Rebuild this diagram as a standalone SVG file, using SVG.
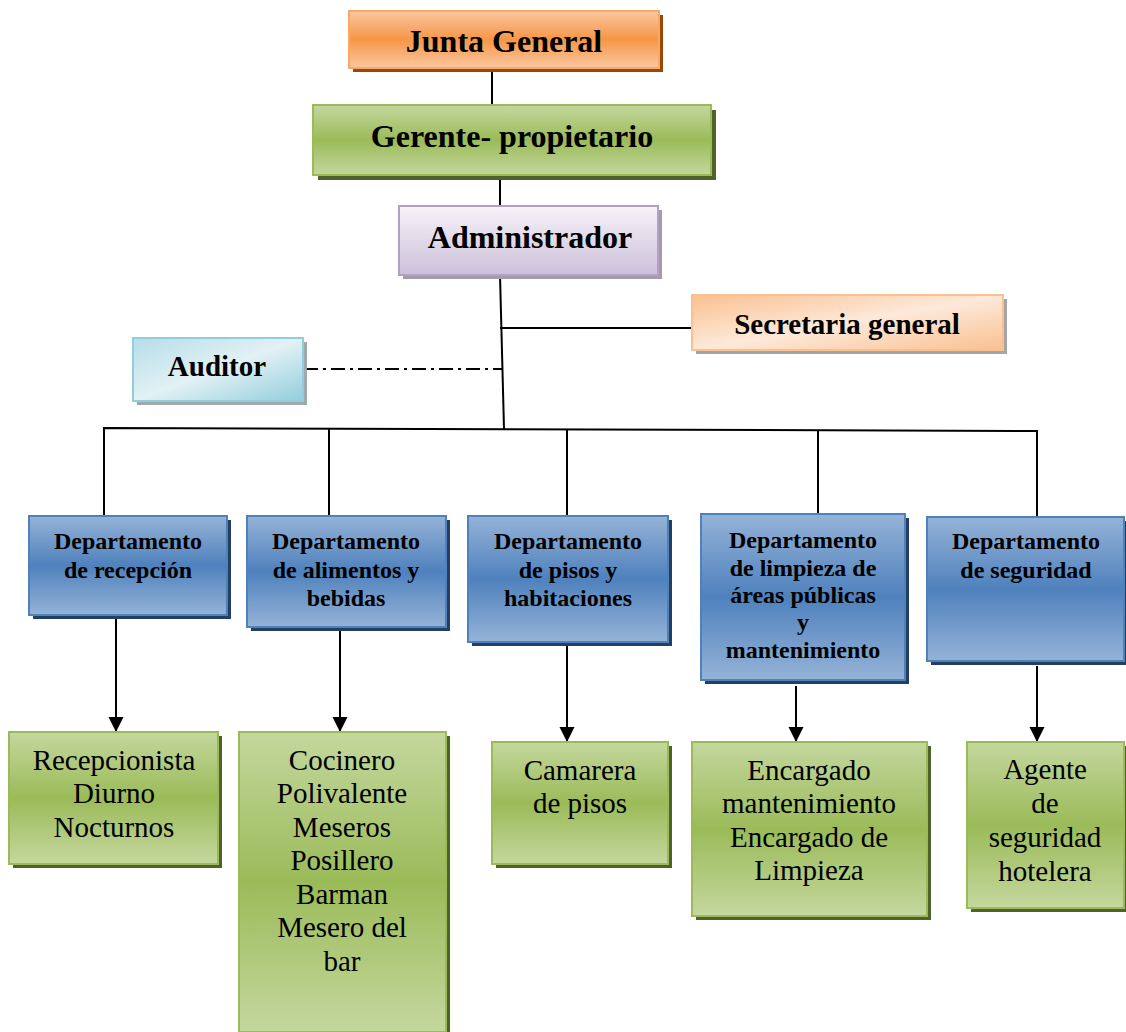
<svg xmlns="http://www.w3.org/2000/svg" width="1126" height="1032" viewBox="0 0 1126 1032">
<defs>
<linearGradient id="gOr" x1="0" y1="0" x2="0" y2="1"><stop offset="0" stop-color="#fac7a0"/><stop offset="0.5" stop-color="#f79646"/><stop offset="1" stop-color="#fac7a0"/></linearGradient>
<linearGradient id="gGr" x1="0" y1="0" x2="0" y2="1"><stop offset="0" stop-color="#c4d79e"/><stop offset="0.5" stop-color="#9bbb59"/><stop offset="1" stop-color="#c4d79e"/></linearGradient>
<linearGradient id="gBl" x1="0" y1="0" x2="0" y2="1"><stop offset="0" stop-color="#95b3d7"/><stop offset="0.5" stop-color="#4f81bd"/><stop offset="1" stop-color="#95b3d7"/></linearGradient>
<linearGradient id="gPu" x1="0" y1="0" x2="0" y2="1"><stop offset="0" stop-color="#f6f3f9"/><stop offset="1" stop-color="#ccc0da"/></linearGradient>
<linearGradient id="gPe" x1="0" y1="0" x2="1" y2="1"><stop offset="0" stop-color="#fac090"/><stop offset="0.5" stop-color="#fde9d9"/><stop offset="1" stop-color="#fac090"/></linearGradient>
<linearGradient id="gCy" x1="0" y1="0" x2="1" y2="1"><stop offset="0" stop-color="#b6dde8"/><stop offset="0.5" stop-color="#e2f1f5"/><stop offset="1" stop-color="#92cddc"/></linearGradient>
<marker id="arr" markerWidth="16" markerHeight="16" refX="15" refY="7.5" orient="auto" markerUnits="userSpaceOnUse"><path d="M0,0 L15,7.5 L0,15 Z" fill="#000"/></marker>
</defs>
<style>
.b{font-family:"Liberation Serif","Times New Roman",serif;font-weight:bold;text-anchor:middle;fill:#000}
.big{font-size:32px}
.mid{font-size:29px}
.dep{font-size:24px}
.r{font-family:"Liberation Serif","Times New Roman",serif;font-size:29px;text-anchor:middle;fill:#000}
.ln{stroke:#000;stroke-width:2;fill:none}
.or{fill:url(#gOr);stroke:#f8a869;stroke-width:2}
.gr{fill:url(#gGr);stroke:#9bbb59;stroke-width:2}
.bl{fill:url(#gBl);stroke:#4f81bd;stroke-width:2}
.pu{fill:url(#gPu);stroke:#b2a1c7;stroke-width:2}
.pe{fill:url(#gPe);stroke:#fac090;stroke-width:2}
.cy{fill:url(#gCy);stroke:#92cddc;stroke-width:2}
</style>
<g id="connectors">
<line class="ln" x1="492" y1="68" x2="492" y2="105"/>
<line class="ln" x1="500" y1="175" x2="500" y2="206"/>
<line class="ln" x1="500" y1="275" x2="504" y2="429"/>
<line class="ln" x1="500" y1="328" x2="692" y2="328"/>
<line class="ln" x1="304" y1="369" x2="502" y2="369" stroke-dasharray="14,5,3,5"/>
<polyline class="ln" points="104,516 104,428 1037,431 1037,517"/>
<line class="ln" x1="329" y1="429" x2="329" y2="516"/>
<line class="ln" x1="567" y1="430" x2="567" y2="516"/>
<line class="ln" x1="818" y1="430" x2="818" y2="514"/>
<line class="ln" x1="116" y1="615" x2="116" y2="732" marker-end="url(#arr)"/>
<line class="ln" x1="340" y1="627" x2="340" y2="732" marker-end="url(#arr)"/>
<line class="ln" x1="567" y1="642" x2="567" y2="742" marker-end="url(#arr)"/>
<line class="ln" x1="796" y1="686" x2="796" y2="742" marker-end="url(#arr)"/>
<line class="ln" x1="1037" y1="666" x2="1037" y2="742" marker-end="url(#arr)"/>
</g>
<g id="junta">
<rect x="353" y="15" width="310" height="57" fill="#984807"/>
<rect class="or" x="349" y="11" width="310" height="57"/>
<text class="b big" x="504" y="52">Junta General</text>
</g>
<g id="gerente">
<rect x="318" y="110" width="398" height="70" fill="#4f6228"/>
<rect class="gr" x="313" y="105" width="398" height="70"/>
<text class="b big" x="512" y="147">Gerente- propietario</text>
</g>
<g id="administrador">
<rect x="403" y="210" width="259" height="69" fill="#a39bab"/>
<rect class="pu" x="399" y="206" width="259" height="69"/>
<text class="b big" x="530" y="248">Administrador</text>
</g>
<g id="secretaria">
<rect x="696" y="299" width="311" height="55" fill="#a5a5a5"/>
<rect class="pe" x="692" y="295" width="311" height="55"/>
<text class="b mid" x="847" y="334">Secretaria general</text>
</g>
<g id="auditor">
<rect x="137" y="342" width="170" height="63" fill="#9fa9ac"/>
<rect class="cy" x="133" y="338" width="170" height="63"/>
<text class="b mid" x="217" y="376">Auditor</text>
</g>
<g id="dep1">
<rect x="33" y="520" width="198" height="99" fill="#243f60"/>
<rect class="bl" x="29" y="516" width="198" height="99"/>
<text class="b dep" x="128" y="549">Departamento</text>
<text class="b dep" x="128" y="578">de recepción</text>
</g>
<g id="dep2">
<rect x="251" y="520" width="199" height="111" fill="#243f60"/>
<rect class="bl" x="247" y="516" width="199" height="111"/>
<text class="b dep" x="346" y="549">Departamento</text>
<text class="b dep" x="346" y="578">de alimentos y</text>
<text class="b dep" x="346" y="606">bebidas</text>
</g>
<g id="dep3">
<rect x="472" y="520" width="200" height="126" fill="#243f60"/>
<rect class="bl" x="468" y="516" width="200" height="126"/>
<text class="b dep" x="568" y="549">Departamento</text>
<text class="b dep" x="568" y="578">de pisos y</text>
<text class="b dep" x="568" y="606">habitaciones</text>
</g>
<g id="dep4">
<rect x="705" y="518" width="204" height="166" fill="#243f60"/>
<rect class="bl" x="701" y="514" width="204" height="166"/>
<text class="b dep" x="803" y="548">Departamento</text>
<text class="b dep" x="803" y="576">de limpieza de</text>
<text class="b dep" x="803" y="603">áreas públicas</text>
<text class="b dep" x="803" y="630">y</text>
<text class="b dep" x="803" y="658">mantenimiento</text>
</g>
<g id="dep5">
<rect x="931" y="521" width="197" height="144" fill="#243f60"/>
<rect class="bl" x="927" y="517" width="197" height="144"/>
<text class="b dep" x="1026" y="549">Departamento</text>
<text class="b dep" x="1026" y="578">de seguridad</text>
</g>
<g id="recepcionista">
<rect x="13" y="736" width="209" height="132" fill="#4f6228"/>
<rect class="gr" x="9" y="732" width="209" height="132"/>
<text class="r" x="114" y="770">Recepcionista</text>
<text class="r" x="114" y="803">Diurno</text>
<text class="r" x="114" y="837">Nocturnos</text>
</g>
<g id="cocinero">
<rect x="243" y="736" width="207" height="300" fill="#4f6228"/>
<rect class="gr" x="239" y="732" width="207" height="300"/>
<text class="r" x="342" y="770">Cocinero</text>
<text class="r" x="342" y="803">Polivalente</text>
<text class="r" x="342" y="837">Meseros</text>
<text class="r" x="342" y="870">Posillero</text>
<text class="r" x="342" y="904">Barman</text>
<text class="r" x="342" y="937">Mesero del</text>
<text class="r" x="342" y="971">bar</text>
</g>
<g id="camarera">
<rect x="496" y="746" width="176" height="122" fill="#4f6228"/>
<rect class="gr" x="492" y="742" width="176" height="122"/>
<text class="r" x="580" y="780">Camarera</text>
<text class="r" x="580" y="813">de pisos</text>
</g>
<g id="encargado">
<rect x="696" y="746" width="235" height="174" fill="#4f6228"/>
<rect class="gr" x="692" y="742" width="235" height="174"/>
<text class="r" x="809" y="780">Encargado</text>
<text class="r" x="809" y="813">mantenimiento</text>
<text class="r" x="809" y="847">Encargado de</text>
<text class="r" x="809" y="880">Limpieza</text>
</g>
<g id="agente">
<rect x="971" y="746" width="157" height="166" fill="#4f6228"/>
<rect class="gr" x="967" y="742" width="157" height="166"/>
<text class="r" x="1045" y="779">Agente</text>
<text class="r" x="1045" y="813">de</text>
<text class="r" x="1045" y="847">seguridad</text>
<text class="r" x="1045" y="881">hotelera</text>
</g>
</svg>
